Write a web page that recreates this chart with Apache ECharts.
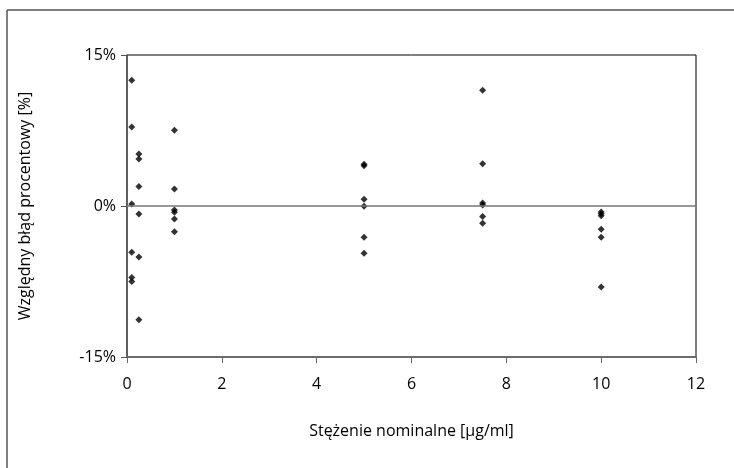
<!DOCTYPE html>
<html>
<head>
<meta charset="utf-8">
<script src="https://cdn.jsdelivr.net/npm/echarts@6/dist/echarts.min.js"></script>
<style>
  html, body { margin: 0; padding: 0; background: #fff; }
  #chart { width: 734px; height: 468px; }
</style>
</head>
<body>
<div id="chart"></div>
<script>
// stężenia nominalne [µg/ml] i błędy względne [%] dla każdego stężenia
const conc = [0.1, 0.25, 1, 5, 7.5, 10]
const errors = [
  [12.5, 7.85, 0.2, -4.6, -7.1, -7.5],
  [5.17, 4.67, 1.93, -0.8, -5.07, -11.3],
  [7.52, 1.69, -0.4, -0.63, -1.29, -2.55],
  [4.15, 4.0, 0.67, -0.03, -3.1, -4.7],
  [11.5, 4.2, 0.3, 0.1, -1.05, -1.72],
  [-0.6, -0.76, -0.96, -2.3, -3.1, -8.05],
]
const xTicks = [0, 2, 4, 6, 8, 10, 12]
const yTicks = [-15, 0, 15]

const points = []
conc.forEach((c, i) => {
  errors[i].forEach((e) => points.push([c, e]))
})

const font = 'Open Sans'
const myChart = echarts.init(document.getElementById('chart'))
myChart.setOption({
  animation: false,
  textStyle: { fontFamily: font },
  graphic: [
    { type: 'line', shape: { x1: 7, y1: 10, x2: 734, y2: 10 }, style: { stroke: '#555', lineWidth: 1.5 } },
    { type: 'line', shape: { x1: 7, y1: 10, x2: 7, y2: 468 }, style: { stroke: '#555', lineWidth: 1.5 } },
  ],
  grid: {
    left: 127,
    right: 38,
    top: 55,
    bottom: 111,
    show: true,
    borderColor: '#000',
    borderWidth: 1,
  },
  xAxis: {
    type: 'value',
    min: xTicks[0],
    max: xTicks[xTicks.length - 1],
    interval: 2,
    name: 'Stężenie nominalne [µg/ml]',
    nameLocation: 'middle',
    nameGap: 66,
    nameTextStyle: { color: '#000', fontSize: 16, fontFamily: font },
    axisLine: { onZero: false, lineStyle: { color: '#666', width: 1.5 } },
    axisTick: { show: true, inside: false, length: 6, lineStyle: { color: '#666' } },
    axisLabel: { color: '#000', fontSize: 16, margin: 19 },
    splitLine: { show: false },
  },
  yAxis: {
    type: 'value',
    min: yTicks[0],
    max: yTicks[yTicks.length - 1],
    interval: 15,
    name: 'Względny błąd procentowy [%]',
    nameLocation: 'middle',
    nameGap: 94,
    nameTextStyle: { color: '#000', fontSize: 16, fontFamily: font },
    axisLine: { show: true, lineStyle: { color: '#555', width: 1.5 } },
    axisTick: { show: true, inside: false, length: 6, lineStyle: { color: '#555' } },
    axisLabel: { color: '#000', fontSize: 16, margin: 11, formatter: '{value}%' },
    splitLine: { show: false },
  },
  series: [
    {
      type: 'scatter',
      data: points,
      symbol: 'diamond',
      symbolSize: 7,
      itemStyle: { color: '#000' },
      markLine: {
        silent: true,
        symbol: 'none',
        label: { show: false },
        lineStyle: { color: '#777', width: 1.5, type: 'solid' },
        data: [{ yAxis: 0 }],
      },
    },
  ],
})
</script>
</body>
</html>
